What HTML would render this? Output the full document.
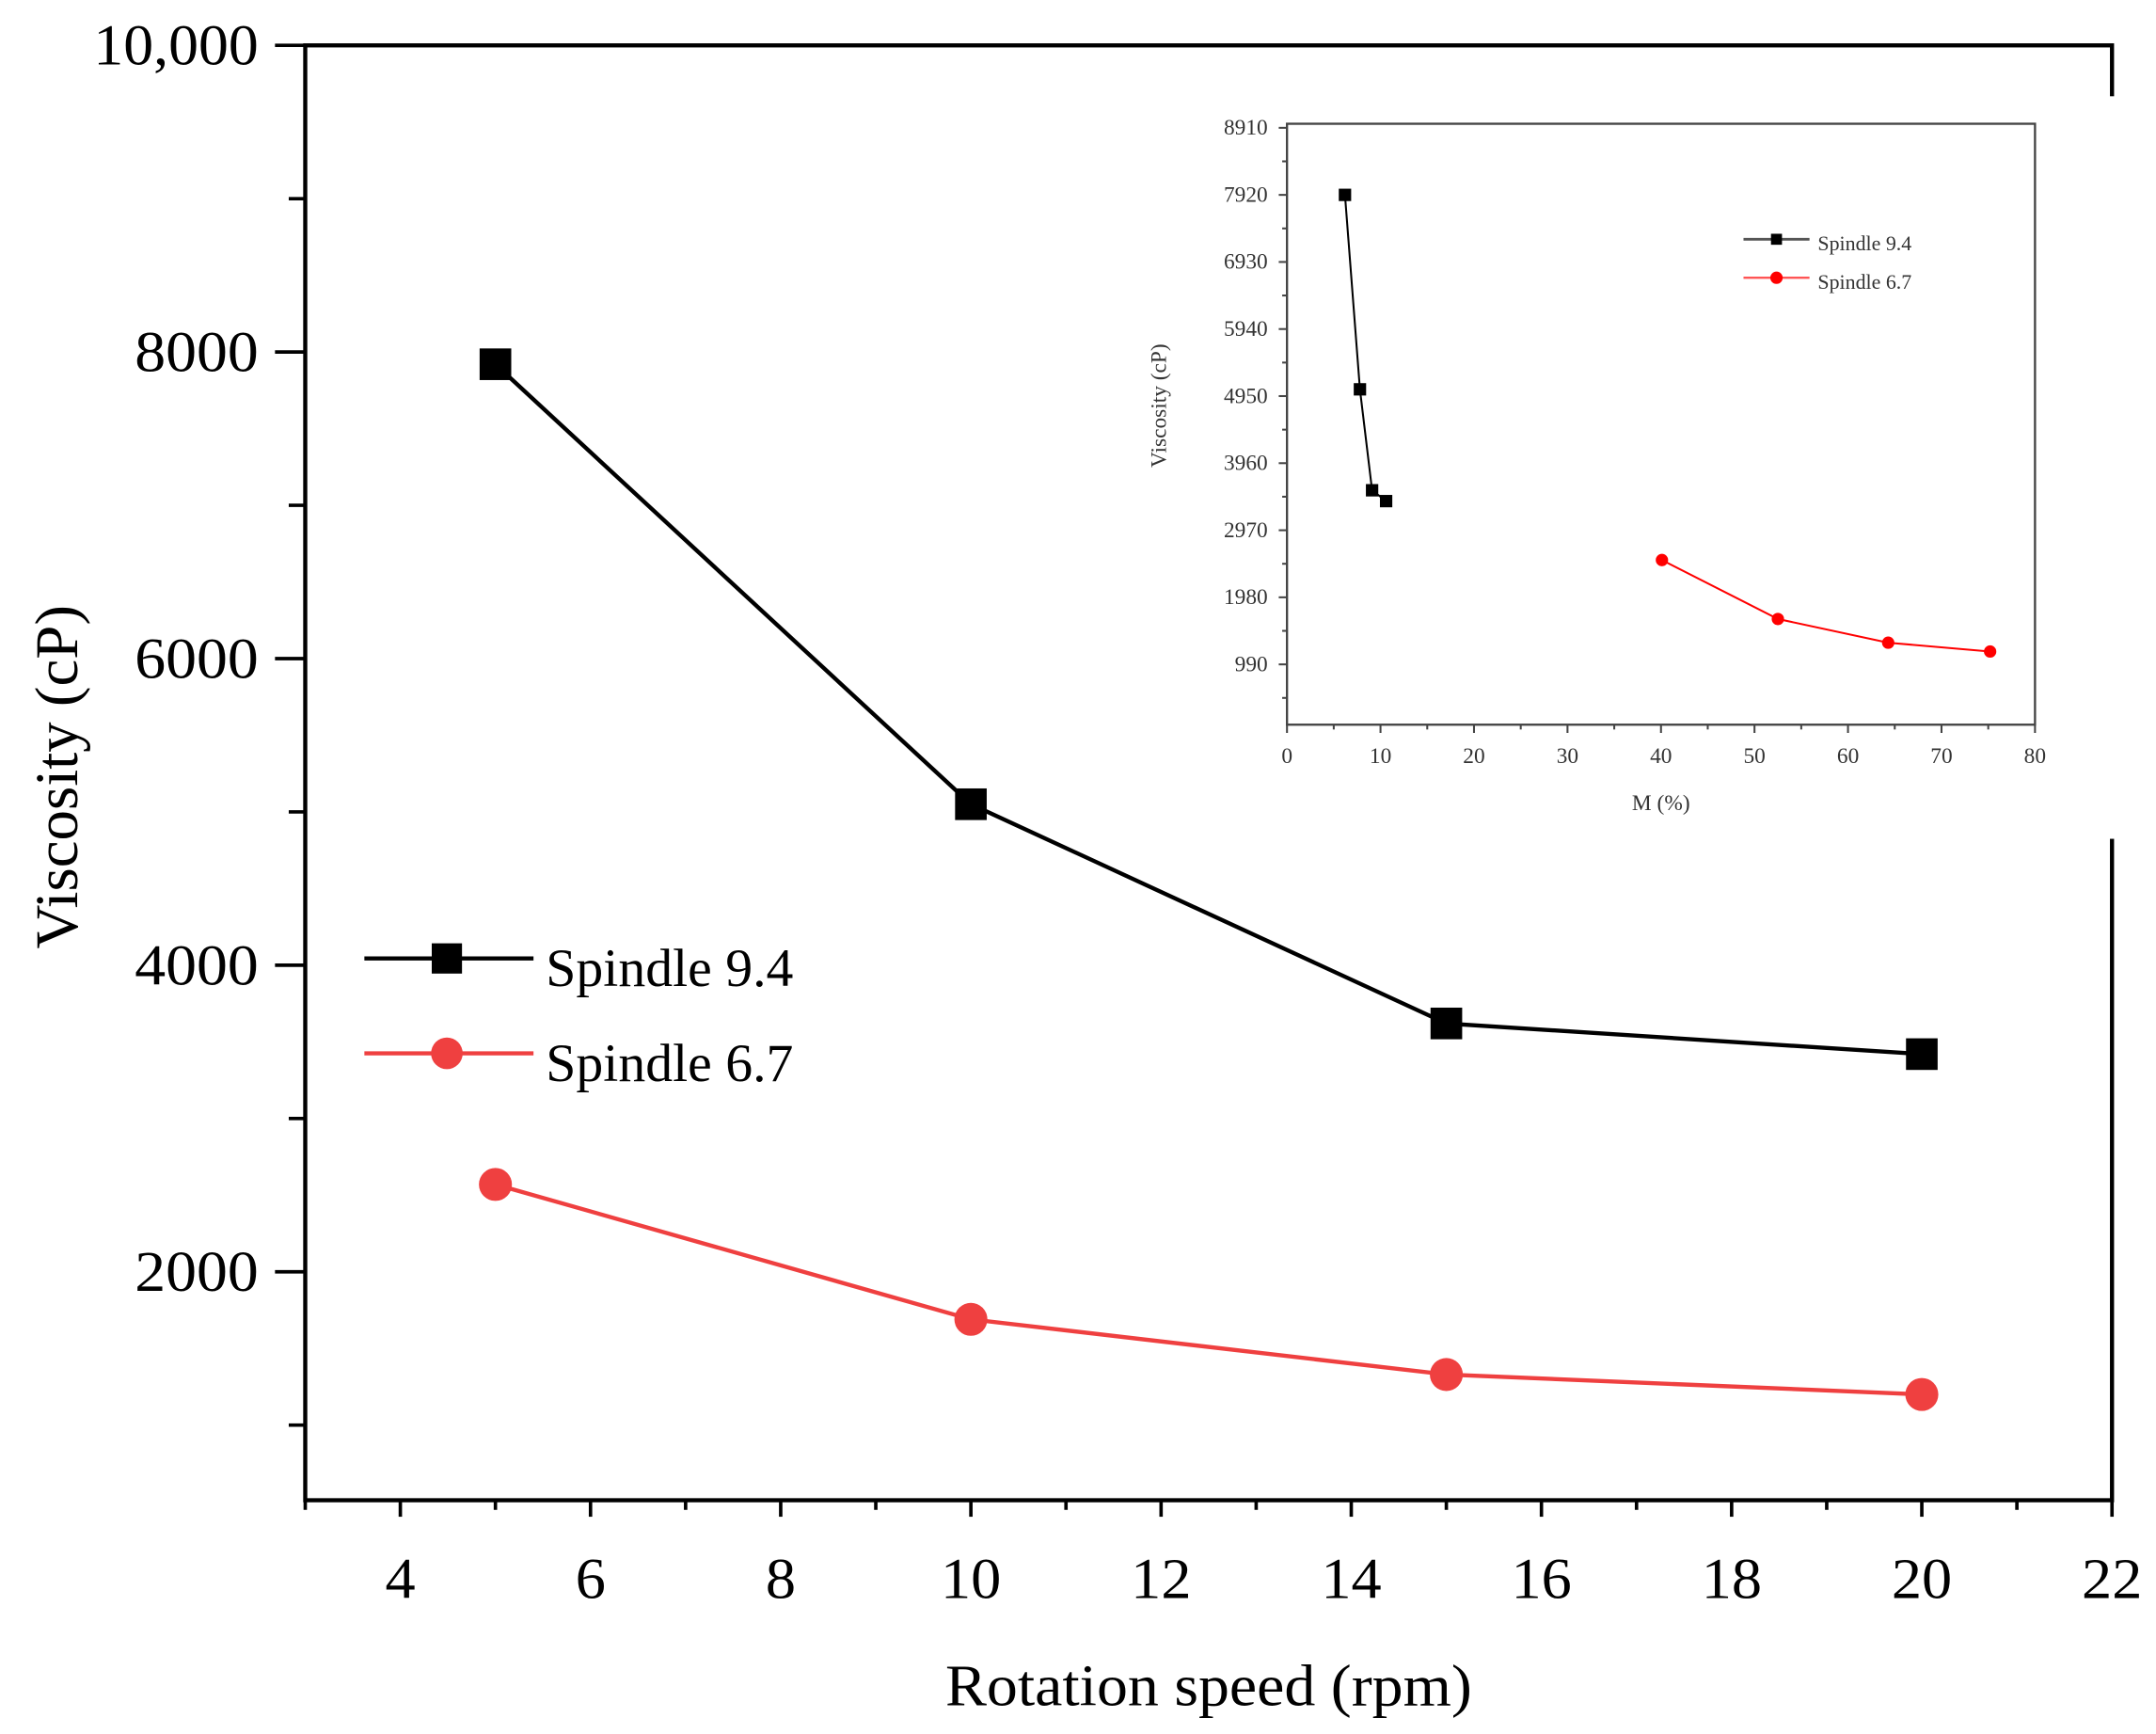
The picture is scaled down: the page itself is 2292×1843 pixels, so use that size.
<!DOCTYPE html>
<html><head><meta charset="utf-8"><style>
html,body{margin:0;padding:0;background:#fff;}
svg{display:block;}
text{font-family:"Liberation Serif",serif;}
</style></head><body>
<svg id="chart" width="2292" height="1843" viewBox="0 0 1568 1261" preserveAspectRatio="none" xmlns="http://www.w3.org/2000/svg"></svg>
<script>
// Main chart data
const mainCategories = [5, 10, 15, 20];
const spindle94 = [7920, 5050, 3620, 3420];
const spindle67 = [2570, 1690, 1330, 1200];
const mainXTicks = [4, 6, 8, 10, 12, 14, 16, 18, 20, 22];
const mainYTicks = [2000, 4000, 6000, 8000, 10000];
const mainYTickLabels = ["2000", "4000", "6000", "8000", "10,000"];
// Inset data
const insetX94 = [6.2, 7.8, 9.1, 10.6];
const insetY94 = [7920, 5050, 3560, 3400];
const insetX67 = [40.1, 52.5, 64.3, 75.2];
const insetY67 = [2530, 1660, 1310, 1180];
const insetXTicks = [0, 10, 20, 30, 40, 50, 60, 70, 80];
const insetYTicks = [990, 1980, 2970, 3960, 4950, 5940, 6930, 7920, 8910];

const NS = "http://www.w3.org/2000/svg";
const svg = document.getElementById('chart');
function mk(tag, attrs, parent, txt) {
  const e = document.createElementNS(NS, tag);
  for (const k in attrs) e.setAttribute(k, attrs[k]);
  if (txt !== undefined) e.textContent = txt;
  (parent || svg).appendChild(e);
  return e;
}
// Main axes
const L = 222, R = 1536, T = 33, B = 1091;
const xMin = 3, xMax = 22, yMin = 510, yMax = 10000;
const sx = v => L + (v - xMin) / (xMax - xMin) * (R - L);
const sy = v => B - (v - yMin) / (yMax - yMin) * (B - T);

let e;
e = mk('rect', {x: L, y: T, width: R - L, height: B - T, fill: 'none', stroke: '#000', 'stroke-width': 3});



for (let v = 3; v <= 22; v++) {
  const major = v % 2 === 0;
  e = mk('line', {x1: sx(v), x2: sx(v), y1: B, y2: B + (major ? 12 : 7), stroke: '#000', 'stroke-width': 2.5});
  
  
}
mainXTicks.forEach(v => {
  const s = String(v);
  e = mk('text', {x: sx(v), y: 1162, 'text-anchor': 'middle', 'font-size': 42, textLength: s.length * 22, lengthAdjust: 'spacingAndGlyphs'}, svg, s);
  
  
});
for (let v = 1000; v <= 9000; v += 2000) {
  e = mk('line', {x1: L - 12, x2: L, y1: sy(v), y2: sy(v), stroke: '#000', 'stroke-width': 2.5});
  
  
}
mainYTicks.forEach((v, i) => {
  e = mk('line', {x1: L - 22, x2: L, y1: sy(v), y2: sy(v), stroke: '#000', 'stroke-width': 2.5});
  
  
  const s = mainYTickLabels[i];
  e = mk('text', {x: 188, y: sy(v) + 14, 'text-anchor': 'end', 'font-size': 42, textLength: s.length === 6 ? 120 : 90, lengthAdjust: 'spacingAndGlyphs'}, svg, s);
  
  
});
e = mk('text', {x: 879, y: 1240, 'text-anchor': 'middle', 'font-size': 43, textLength: 383, lengthAdjust: 'spacingAndGlyphs'}, svg, 'Rotation speed (rpm)');


e = mk('text', {x: 0, y: 0, 'text-anchor': 'middle', 'font-size': 44, textLength: 250, lengthAdjust: 'spacingAndGlyphs', transform: 'translate(56,565) rotate(-90)'}, svg, 'Viscosity (cP)');



function series(xs, ys, fx, fy, color, shape, size, lw, name) {
  e = mk('polyline', {points: xs.map((x, i) => fx(x) + ',' + fy(ys[i])).join(' '), fill: 'none', stroke: color, 'stroke-width': lw});
  
  
  xs.forEach((x, i) => {
    if (shape === 'sq') e = mk('rect', {x: fx(x) - size / 2, y: fy(ys[i]) - size / 2, width: size, height: size, fill: color});
    else e = mk('circle', {cx: fx(x), cy: fy(ys[i]), r: size / 2, fill: color});
    
    
  });
}
series(mainCategories, spindle94, sx, sy, '#000', 'sq', 23, 3, 'spindle-9-4');
series(mainCategories, spindle67, sx, sy, '#ef4040', 'ci', 24, 3, 'spindle-6-7');

// main legend
e = mk('line', {x1: 265, x2: 388, y1: 697, y2: 697, stroke: '#000', 'stroke-width': 3});
 
e = mk('rect', {x: 314, y: 686, width: 22, height: 22, fill: '#000'});
 
e = mk('text', {x: 397, y: 717, 'font-size': 39, textLength: 180, lengthAdjust: 'spacingAndGlyphs'}, svg, 'Spindle 9.4');
 
e = mk('line', {x1: 265, x2: 388, y1: 766, y2: 766, stroke: '#ef4040', 'stroke-width': 3});
 
e = mk('circle', {cx: 325, cy: 766, r: 11.5, fill: '#ef4040'});
 
e = mk('text', {x: 397, y: 786, 'font-size': 39, textLength: 180, lengthAdjust: 'spacingAndGlyphs'}, svg, 'Spindle 6.7');
 

// Inset
const g = mk('g', {});


e = mk('rect', {x: 828, y: 70, width: 714, height: 540, fill: '#fff'}, g);
 
const iL = 936, iR = 1480, iT = 90, iB = 527;
const ixMin = 0, ixMax = 80, iyMin = 100, iyMax = 8970;
const ix = v => iL + (v - ixMin) / (ixMax - ixMin) * (iR - iL);
const iy = v => iB - (v - iyMin) / (iyMax - iyMin) * (iB - iT);
e = mk('rect', {x: iL, y: iT, width: iR - iL, height: iB - iT, fill: 'none', stroke: '#444', 'stroke-width': 1.6}, g);
 
for (let v = 0; v <= 80; v += 5) {
  e = mk('line', {x1: ix(v), x2: ix(v), y1: iB, y2: iB + (v % 10 === 0 ? 6 : 3.5), stroke: '#444', 'stroke-width': 1.4}, g);
   
}
insetXTicks.forEach(v => {
  e = mk('text', {x: ix(v), y: 555, 'text-anchor': 'middle', 'font-size': 16, fill: '#333'}, g, String(v));
   
});
insetYTicks.forEach(v => {
  e = mk('line', {x1: iL - 6, x2: iL, y1: iy(v), y2: iy(v), stroke: '#444', 'stroke-width': 1.4}, g);
   
  e = mk('line', {x1: iL - 3.5, x2: iL, y1: iy(v - 495), y2: iy(v - 495), stroke: '#444', 'stroke-width': 1.4}, g);
   
  e = mk('text', {x: 922, y: iy(v) + 5, 'text-anchor': 'end', 'font-size': 16, fill: '#333'}, g, String(v));
   
});
e = mk('text', {x: 1208, y: 589, 'text-anchor': 'middle', 'font-size': 16, fill: '#333'}, g, 'M (%)');
 
e = mk('text', {x: 0, y: 0, 'text-anchor': 'middle', 'font-size': 16, fill: '#333', transform: 'translate(848,295) rotate(-90)'}, g, 'Viscosity (cP)');
 

function iseries(xs, ys, color, shape, size, name) {
  e = mk('polyline', {points: xs.map((x, i) => ix(x) + ',' + iy(ys[i])).join(' '), fill: 'none', stroke: color, 'stroke-width': 1.4}, g);
  
  
  xs.forEach((x, i) => {
    if (shape === 'sq') e = mk('rect', {x: ix(x) - size / 2, y: iy(ys[i]) - size / 2, width: size, height: size, fill: color}, g);
    else e = mk('circle', {cx: ix(x), cy: iy(ys[i]), r: size / 2, fill: color}, g);
    
    
  });
}
iseries(insetX94, insetY94, '#000', 'sq', 9, 'inset-spindle-9-4');
iseries(insetX67, insetY67, '#f00', 'ci', 9, 'inset-spindle-6-7');

e = mk('line', {x1: 1268, x2: 1316, y1: 174, y2: 174, stroke: '#555', 'stroke-width': 2}, g);
 
e = mk('rect', {x: 1288, y: 170, width: 8, height: 8, fill: '#000'}, g);
 
e = mk('text', {x: 1322, y: 182, 'font-size': 15, fill: '#333'}, g, 'Spindle 9.4');
 
e = mk('line', {x1: 1268, x2: 1316, y1: 202, y2: 202, stroke: '#f55', 'stroke-width': 1.6}, g);
 
e = mk('circle', {cx: 1292, cy: 202, r: 4.5, fill: '#f00'}, g);
 
e = mk('text', {x: 1322, y: 210, 'font-size': 15, fill: '#333'}, g, 'Spindle 6.7');
 
</script>
</body></html>
